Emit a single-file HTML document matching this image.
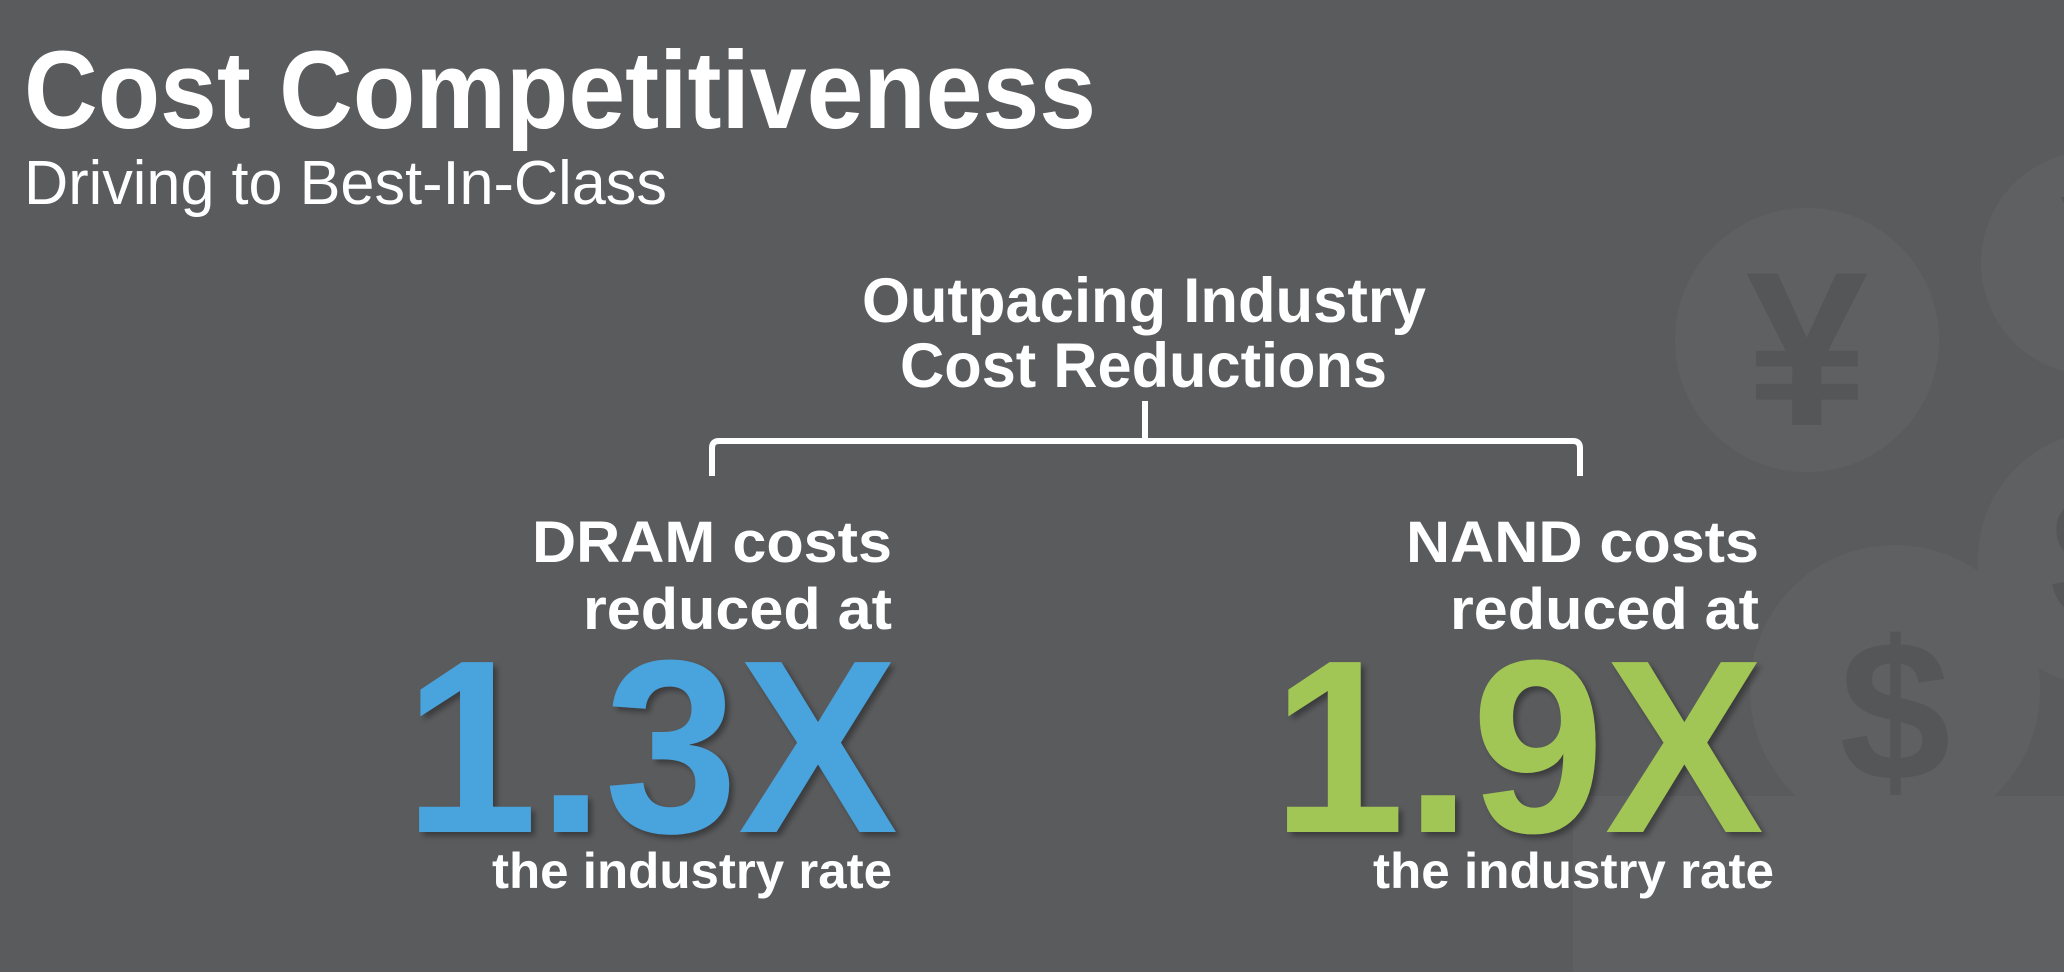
<!DOCTYPE html>
<html><head><meta charset="utf-8"><style>
html,body{margin:0;padding:0;background:#5a5b5d;}
svg{display:block}
text{font-family:"Liberation Sans",sans-serif;fill:#fff;font-weight:bold}
</style></head><body>
<svg width="2064" height="972" viewBox="0 0 2064 972" xmlns="http://www.w3.org/2000/svg">
<defs>
<filter id="sh" x="-10%" y="-10%" width="130%" height="130%"><feDropShadow dx="4" dy="4" stdDeviation="3" flood-color="#000" flood-opacity="0.35"/></filter>
<clipPath id="top"><rect x="0" y="0" width="2064" height="796"/></clipPath>
</defs>
<rect width="2064" height="972" fill="#5a5b5d"/>
<g clip-path="url(#top)" fill="#5f6062">
<circle cx="1807" cy="340" r="132"/>
<circle cx="2093" cy="263" r="112"/>
<circle cx="2106" cy="559" r="128"/>
<circle cx="1895" cy="690" r="145"/>
</g>
<rect x="1573" y="796" width="491" height="176" fill="#5f6062"/>
<g fill="#555658" clip-path="url(#top)">
<text x="1807" y="425" text-anchor="middle" font-size="220" style="fill:#555658">¥</text>
<text x="1895" y="780" text-anchor="middle" font-size="200" style="fill:#555658">$</text>
<text x="2060" y="300" font-size="150" style="fill:#555658">¥</text>
<text x="2050" y="620" font-size="180" style="fill:#555658">$</text>
</g>
<text x="24" y="128" font-size="110" textLength="1072" lengthAdjust="spacingAndGlyphs">Cost Competitiveness</text>
<text x="24" y="204" font-size="62" font-weight="normal" style="font-weight:normal" textLength="643" lengthAdjust="spacingAndGlyphs">Driving to Best-In-Class</text>
<text x="862" y="322" font-size="63" textLength="564" lengthAdjust="spacingAndGlyphs">Outpacing Industry</text>
<text x="900" y="387" font-size="63" textLength="487" lengthAdjust="spacingAndGlyphs">Cost Reductions</text>
<path d="M1145 401 V438 M712 476 V448 Q712 441 719 441 H1573 Q1580 441 1580 448 V476" stroke="#fff" stroke-width="6" fill="none"/>
<text x="532" y="562" font-size="58" textLength="360" lengthAdjust="spacingAndGlyphs">DRAM costs</text>
<text x="583" y="629" font-size="58" textLength="309" lengthAdjust="spacingAndGlyphs">reduced at</text>
<text x="404" y="832" font-size="247" textLength="494" lengthAdjust="spacingAndGlyphs" style="fill:#4aa3dd" filter="url(#sh)">1.3X</text>
<text x="492" y="888" font-size="50" textLength="400" lengthAdjust="spacingAndGlyphs">the industry rate</text>
<text x="1406" y="562" font-size="58" textLength="353" lengthAdjust="spacingAndGlyphs">NAND costs</text>
<text x="1450" y="629" font-size="58" textLength="309" lengthAdjust="spacingAndGlyphs">reduced at</text>
<text x="1272" y="832" font-size="247" textLength="492" lengthAdjust="spacingAndGlyphs" style="fill:#a2c655" filter="url(#sh)">1.9X</text>
<text x="1373" y="888" font-size="50" textLength="401" lengthAdjust="spacingAndGlyphs">the industry rate</text>
</svg>
</body></html>
